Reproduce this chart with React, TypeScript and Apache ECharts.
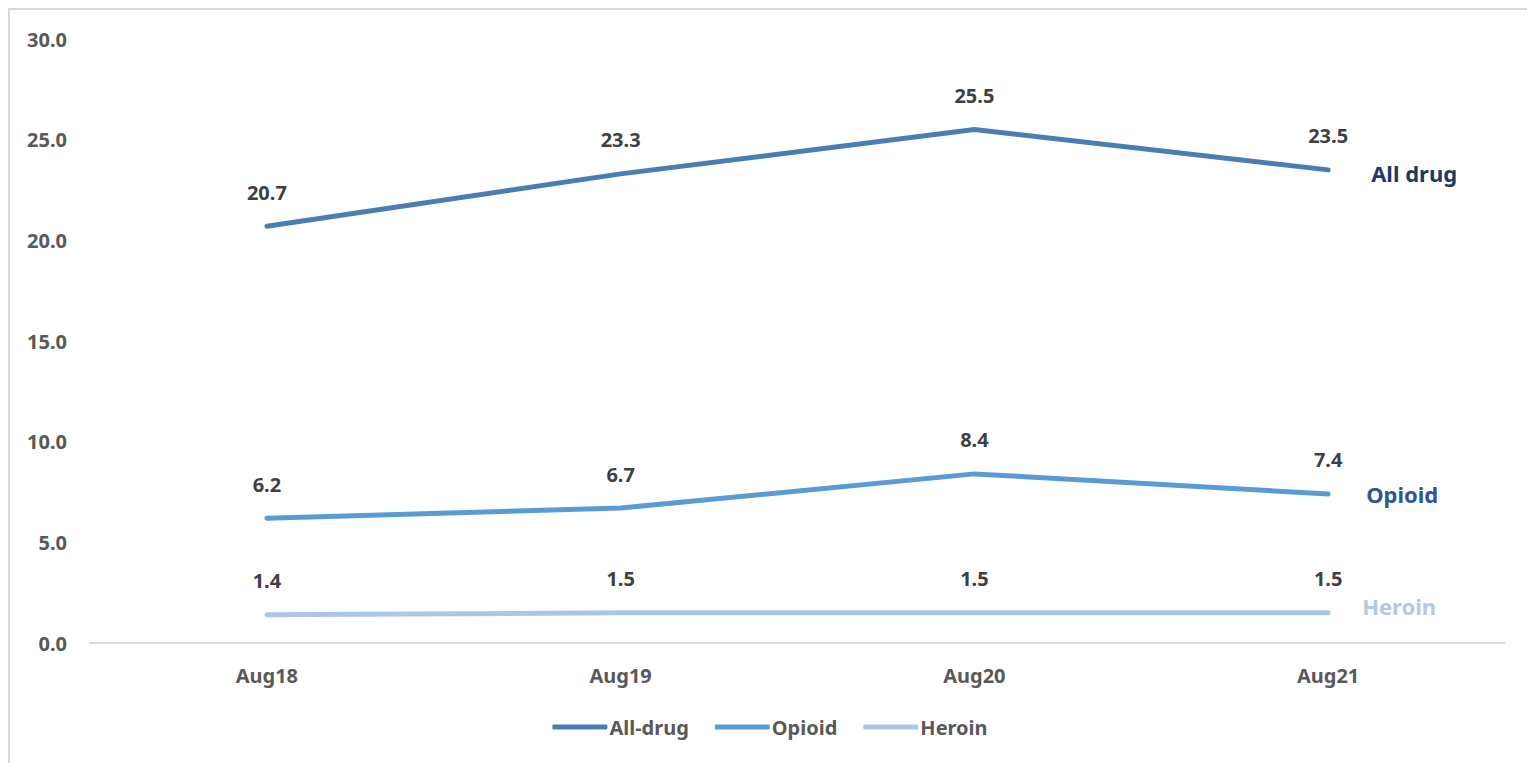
import React, { useEffect, useRef } from "react";
import * as echarts from "echarts";

const categories = ["Aug18", "Aug19", "Aug20", "Aug21"];
const allDrug = [20.7, 23.3, 25.5, 23.5];
const opioid = [6.2, 6.7, 8.4, 7.4];
const heroin = [1.4, 1.5, 1.5, 1.5];
const seriesNames = ["All-drug", "Opioid", "Heroin"];
const endNames = ["All drug", "Opioid", "Heroin"];

const FONT = "'Noto Sans', 'Open Sans', sans-serif";

export default function App() {
  const ref = useRef<HTMLDivElement>(null);
  useEffect(() => {
    if (!ref.current) return;
    const chart = echarts.init(ref.current, null, { renderer: "svg" });
    const lineColors = ["#4a7eb3", "#5b9bd5", "#adc6e8"];
    const endColors = ["#1f3864", "#2f5597", "#b4c7e7"];
    const endDist = [43, 38, 34];
    const endOff = [3, 0, -7];
    const datas = [allDrug, opioid, heroin];
    chart.setOption({
      animation: false,
      textStyle: { fontFamily: FONT },
      grid: { left: 80, right: 25, top: 29, bottom: 138, containLabel: false },
      legend: {
        data: seriesNames.map((n) => ({ name: n, icon: "roundRect" })),
        left: "center",
        top: 702,
        itemWidth: 55,
        itemHeight: 5,
        itemGap: 26,
        textStyle: { fontFamily: FONT, fontSize: 20, fontWeight: "bold", color: "#595959", padding: [0, 0, 0, -3] },
      },
      xAxis: {
        type: "category",
        data: categories,
        boundaryGap: true,
        axisLine: { show: true, lineStyle: { color: "#d9d9d9", width: 2 } },
        axisTick: { show: false },
        axisLabel: { fontFamily: FONT, fontSize: 20, fontWeight: "bold", color: "#595959", margin: 22 },
      },
      yAxis: {
        type: "value",
        min: 0,
        max: 30,
        interval: 5,
        axisLine: { show: false },
        axisTick: { show: false },
        splitLine: { show: false },
        axisLabel: {
          fontFamily: FONT,
          fontSize: 20,
          fontWeight: "bold",
          color: "#595959",
          margin: 23,
          formatter: (v: number) => v.toFixed(1),
        },
      },
      series: datas.map((d, i) => ({
        name: seriesNames[i],
        type: "line",
        data: d,
        symbol: "circle",
        symbolSize: 0.1,
        showSymbol: true,
        lineStyle: { color: lineColors[i], width: 5, cap: "round", join: "round" },
        itemStyle: { color: lineColors[i] },
        label: {
          show: true,
          position: "top",
          distance: 24,
          fontFamily: FONT,
          fontSize: 20,
          fontWeight: "bold",
          color: "#404040",
          formatter: (p: any) => Number(p.value).toFixed(1),
        },
        endLabel: {
          show: true,
          formatter: endNames[i],
          distance: endDist[i],
          offset: [0, endOff[i]],
          fontFamily: FONT,
          fontSize: 22,
          fontWeight: "bold",
          color: endColors[i],
        },
      })),
    });
    return () => chart.dispose();
  }, []);
  return (
    <div
      style={{
        width: 1524,
        height: 775,
        border: "2px solid #d9d9d9",
        boxSizing: "border-box",
        background: "#fff",
      }}
    >
      <div ref={ref} style={{ width: "100%", height: "100%" }} />
    </div>
  );
}
